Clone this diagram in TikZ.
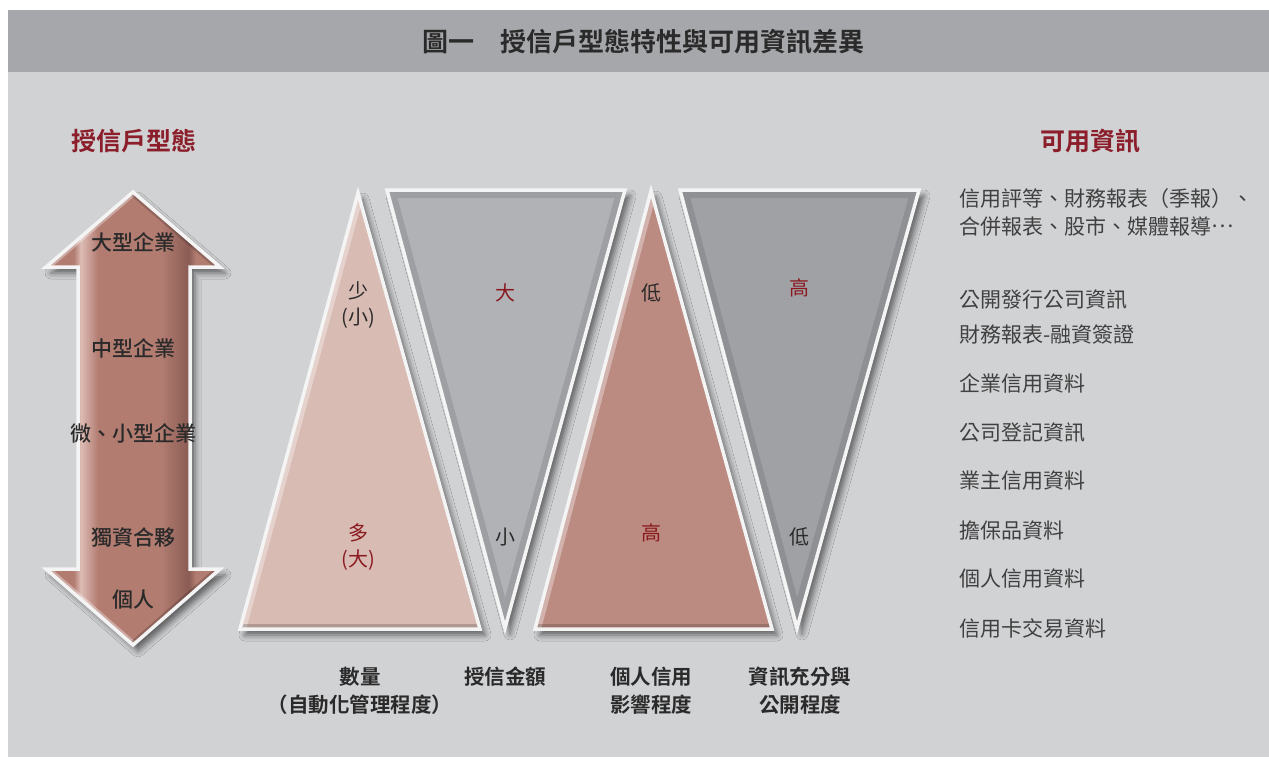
\documentclass[tikz,border=0pt]{standalone}
\usepackage{fontspec}
\setmainfont{Noto Sans CJK TC}[BoldFont={Noto Sans CJK TC Bold}]
\newfontfamily\medf{Noto Sans CJK TC Medium}
\usetikzlibrary{shadows.blur}
\definecolor{bgbody}{HTML}{D1D2D4}
\definecolor{bghead}{HTML}{A6A7AA}
\definecolor{headred}{HTML}{8B1E2A}
\definecolor{txtred}{HTML}{8A1A20}
\definecolor{txtdark}{HTML}{2A2A2A}
\definecolor{txtgray}{HTML}{404040}
\definecolor{edgewhite}{HTML}{F4F4F4}
\definecolor{arL}{HTML}{DDBCB5}
\definecolor{arM}{HTML}{B27C71}
\definecolor{arR}{HTML}{8A5C54}
\definecolor{t1F}{HTML}{D8BBB3}
\definecolor{t2F}{HTML}{B1B2B6}
\definecolor{t3F}{HTML}{BB8A80}
\definecolor{t4F}{HTML}{A0A1A5}
\pgfdeclarehorizontalshading{arrowsh}{100bp}{color(0bp)=(arM); color(25bp)=(arM); color(33bp)=(arM); color(35bp)=(arL); color(40bp)=(arM); color(58bp)=(arM); color(66bp)=(arR); color(68bp)=(arM); color(75bp)=(arM); color(100bp)=(arM)}
\tikzset{
  shadowed/.style={blur shadow={shadow xshift=5pt, shadow yshift=-6pt, shadow blur radius=6pt, shadow opacity=55}},
  rim/.style={draw=edgewhite, line width=3.5pt, line join=miter},
  hilite/.style={draw=white, opacity=0.35, line width=12pt},
  lowlite/.style={draw=black, opacity=0.18, line width=10pt},
  innershade/.style={draw=black, opacity=0.10, line width=16pt},
  title/.style={font=\bfseries\fontsize{26}{30}\selectfont, text=txtdark},
  heading/.style={font=\bfseries\fontsize{25}{30}\selectfont, text=headred},
  arrowlbl/.style={font=\medf\fontsize{21}{25}\selectfont, text=txtdark},
  trilbl/.style={font=\fontsize{20}{26}\selectfont, align=center},
  botlbl/.style={font=\bfseries\fontsize{20.5}{28}\selectfont, text=txtdark, align=center},
  infolbl/.style={font=\fontsize{21}{28}\selectfont, text=txtgray, anchor=west, align=left}
}
\begin{document}
\begin{tikzpicture}[x=1pt, y=-1pt]
\useasboundingbox (0,0) rectangle (1269,765);
\fill[white] (0,0) rectangle (1269,765);
\fill[bghead] (8,10) rectangle (1269,72);
\fill[bgbody] (8,72) rectangle (1269,757);
\node[title] (title) at (643,42) {圖一　授信戶型態特性與可用資訊差異};

\node[heading] (lhead) at (134,141) {授信戶型態};
\node[heading] (rhead) at (1090,141) {可用資訊};

% double arrow
\path[shadowed, shading=arrowsh]
  (133,192) -- (220,267) -- (190,267) -- (190,569) -- (220,569) -- (133,645)
  -- (46,569) -- (78,569) -- (78,267) -- (46,267) -- cycle;
\begin{scope}
  \clip (133,192) -- (220,267) -- (190,267) -- (190,569) -- (220,569) -- (133,645)
  -- (46,569) -- (78,569) -- (78,267) -- (46,267) -- cycle;
  \draw[hilite, line width=8pt] (46,267) -- (133,192);
  \draw[hilite, line width=8pt] (46,569) -- (133,645);
  \draw[lowlite, line width=8pt] (133,192) -- (220,267);
  \draw[lowlite, line width=8pt] (220,569) -- (133,645);
\end{scope}
\path[rim]
  (133,192) -- (220,267) -- (190,267) -- (190,569) -- (220,569) -- (133,645)
  -- (46,569) -- (78,569) -- (78,267) -- (46,267) -- cycle;
\node[arrowlbl] (a1) at (133,242) {大型企業};
\node[arrowlbl] (a2) at (133,348) {中型企業};
\node[arrowlbl] (a3) at (133,433) {微、小型企業};
\node[arrowlbl] (a4) at (133,538) {獨資合夥};
\node[arrowlbl] (a5) at (133,600) {個人};

% triangle vertices
\coordinate (p1) at (358,193); \coordinate (p1l) at (240,629); \coordinate (p1r) at (480,629);
\coordinate (q2l) at (387,190); \coordinate (q2r) at (625,190); \coordinate (q2) at (505,628);
\coordinate (p3) at (651,191); \coordinate (p3l) at (535,629); \coordinate (p3r) at (772,629);
\coordinate (q4l) at (680,190); \coordinate (q4r) at (919,190); \coordinate (q4) at (797,628);

% T1
\path[shadowed, fill=t1F] (p1) -- (p1r) -- (p1l) -- cycle;
\begin{scope}
  \clip (p1) -- (p1r) -- (p1l) -- cycle;
  \draw[hilite] (p1) -- (p1l);
  \draw[lowlite] (p1l) -- (p1r);
\end{scope}
\path[rim] (p1) -- (p1r) -- (p1l) -- cycle;
% T2
\path[shadowed, fill=t2F] (q2l) -- (q2r) -- (q2) -- cycle;
\begin{scope}
  \clip (q2l) -- (q2r) -- (q2) -- cycle;
  \draw[innershade] (q2l) -- (q2r) -- (q2) -- cycle;
\end{scope}
\path[rim] (q2l) -- (q2r) -- (q2) -- cycle;
% T3
\path[shadowed, fill=t3F] (p3) -- (p3r) -- (p3l) -- cycle;
\begin{scope}
  \clip (p3) -- (p3r) -- (p3l) -- cycle;
  \draw[hilite] (p3) -- (p3l);
  \draw[lowlite] (p3l) -- (p3r);
\end{scope}
\path[rim] (p3) -- (p3r) -- (p3l) -- cycle;
% T4
\path[shadowed, fill=t4F] (q4l) -- (q4r) -- (q4) -- cycle;
\begin{scope}
  \clip (q4l) -- (q4r) -- (q4) -- cycle;
  \draw[innershade] (q4l) -- (q4r) -- (q4) -- cycle;
\end{scope}
\path[rim] (q4l) -- (q4r) -- (q4) -- cycle;

\node[trilbl, text=txtdark] (t1a) at (358,305) {少\\(小)};
\node[trilbl, text=txtred] (t1b) at (358,547) {多\\(大)};
\node[trilbl, text=txtred] (t2a) at (505,293) {大};
\node[trilbl, text=txtdark] (t2b) at (505,537) {小};
\node[trilbl, text=txtdark] (t3a) at (651,293) {低};
\node[trilbl, text=txtred] (t3b) at (651,533) {高};
\node[trilbl, text=txtred] (t4a) at (799,288) {高};
\node[trilbl, text=txtdark] (t4b) at (799,537) {低};

% bottom labels
\node[botlbl] (b1) at (360,691) {數量\\（自動化管理程度）};
\node[botlbl] (b2) at (505,677) {授信金額};
\node[botlbl] (b3) at (651,691) {個人信用\\影響程度};
\node[botlbl] (b4) at (800,691) {資訊充分與\\公開程度};

% info column
\node[infolbl] (i1) at (956,212) {信用評等、財務報表（季報）、\\合併報表、股市、媒體報導\raisebox{0.32em}{…}};
\node[infolbl] (i2) at (956,300) {公開發行公司資訊};
\node[infolbl] (i3) at (956,334) {財務報表-融資簽證};
\node[infolbl] (i4) at (956,383) {企業信用資料};
\node[infolbl] (i5) at (956,432) {公司登記資訊};
\node[infolbl] (i6) at (956,481) {業主信用資料};
\node[infolbl] (i7) at (956,530) {擔保品資料};
\node[infolbl] (i8) at (956,579) {個人信用資料};
\node[infolbl] (i9) at (956,628) {信用卡交易資料};
\end{tikzpicture}
\end{document}
